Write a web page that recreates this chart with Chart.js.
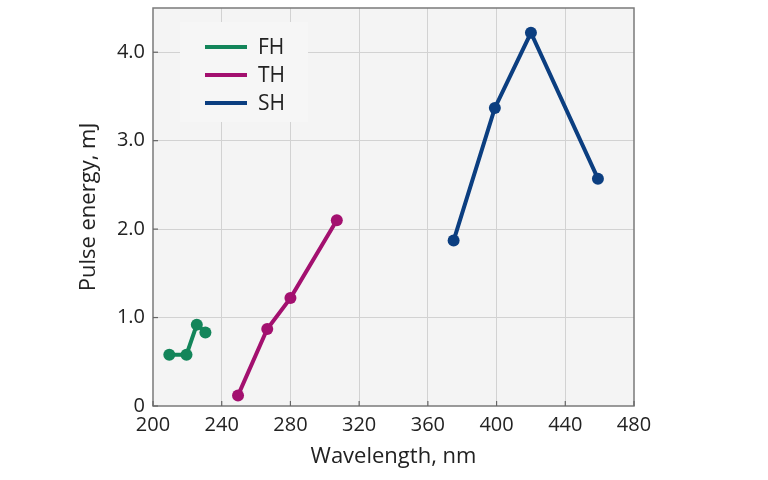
<!DOCTYPE html>
<html>
<head>
<meta charset="utf-8">
<script src="https://cdn.jsdelivr.net/npm/chart.js@4"></script>
<style>
  html, body { margin: 0; padding: 0; background: #fff; }
  #wrap { width: 768px; height: 480px; }
</style>
</head>
<body>
<div id="wrap"><canvas id="chart" width="768" height="480"></canvas></div>
<script>
// Data
const fhX = [209.5, 219.5, 225.5, 230.5];
const fhY = [0.58, 0.58, 0.92, 0.83];
const thX = [249.5, 266.5, 280, 307];
const thY = [0.12, 0.87, 1.22, 2.1];
const shX = [375, 399, 420, 459];
const shY = [1.87, 3.37, 4.22, 2.57];
const xTicks = [200, 240, 280, 320, 360, 400, 440, 480];
const yTicks = [0, 1, 2, 3, 4];
const yTickLabels = ['0', '1.0', '2.0', '3.0', '4.0'];

const COLORS = { FH: '#13855a', TH: '#a3106f', SH: '#0b3e80' };
const FONT = "'Open Sans', 'DejaVu Sans', sans-serif";
const TEXT = '#222';

const pts = (xs, ys) => xs.map((x, i) => ({ x, y: ys[i] }));

function ds(label, xs, ys) {
  return {
    label,
    data: pts(xs, ys),
    borderColor: COLORS[label],
    backgroundColor: COLORS[label],
    borderWidth: 4,
    pointRadius: 6,
    pointHoverRadius: 6,
    pointBorderWidth: 0,
    showLine: true,
    tension: 0
  };
}

// plot background, frame, inward ticks and legend
const frame = {
  id: 'frame',
  beforeDraw(chart) {
    const { ctx, chartArea: a } = chart;
    ctx.save();
    ctx.fillStyle = '#f4f4f4';
    ctx.fillRect(a.left, a.top, a.right - a.left, a.bottom - a.top);
    ctx.restore();
  },
  afterDatasetsDraw(chart) {
    const { ctx, chartArea: a, scales } = chart;
    ctx.save();
    // legend box
    ctx.fillStyle = '#f6f6f6';
    ctx.fillRect(180, 22, 128, 100);
    chart.data.datasets.forEach((d, i) => {
      const y = 47 + i * 28;
      ctx.strokeStyle = d.borderColor;
      ctx.lineWidth = 4;
      ctx.beginPath();
      ctx.moveTo(205, y);
      ctx.lineTo(247, y);
      ctx.stroke();
      ctx.fillStyle = TEXT;
      ctx.font = '21px ' + FONT;
      ctx.textBaseline = 'middle';
      ctx.fillText(d.label, 258, y + 1);
    });
    // frame
    ctx.strokeStyle = '#7a7a7a';
    ctx.lineWidth = 1.5;
    ctx.strokeRect(a.left, a.top, a.right - a.left, a.bottom - a.top);
    // inward ticks
    ctx.strokeStyle = '#666';
    ctx.lineWidth = 1.2;
    xTicks.forEach(v => {
      const x = scales.x.getPixelForValue(v);
      ctx.beginPath(); ctx.moveTo(x, a.bottom); ctx.lineTo(x, a.bottom - 5); ctx.stroke();
    });
    yTicks.forEach(v => {
      const y = scales.y.getPixelForValue(v);
      ctx.beginPath(); ctx.moveTo(a.left, y); ctx.lineTo(a.left + 5, y); ctx.stroke();
    });
    ctx.restore();
  }
};

new Chart(document.getElementById('chart'), {
  type: 'scatter',
  data: {
    datasets: [ds('FH', fhX, fhY), ds('TH', thX, thY), ds('SH', shX, shY)]
  },
  options: {
    responsive: false,
    animation: false,
    layout: { padding: { top: 8, right: 134, left: 76, bottom: 8 } },
    plugins: { legend: { display: false }, tooltip: { enabled: false } },
    scales: {
      x: {
        type: 'linear',
        min: 200, max: 480,
        afterBuildTicks: s => { s.ticks = xTicks.map(v => ({ value: v })); },
        afterFit: s => { s.height = 66; s.paddingLeft = 0; s.paddingRight = 0; },
        grid: {
          color: c => (c.tick && (c.tick.value === 200 || c.tick.value === 480)) ? 'rgba(0,0,0,0)' : '#d2d2d2',
          lineWidth: 1,
          drawTicks: false
        },
        border: { display: false },
        ticks: { color: TEXT, font: { family: FONT, size: 20 }, padding: 7, maxRotation: 0 },
        title: { display: true, text: 'Wavelength, nm', color: TEXT, font: { family: FONT, size: 22 }, padding: { top: 2, bottom: 2 } }
      },
      y: {
        type: 'linear',
        min: 0, max: 4.5,
        afterBuildTicks: s => { s.ticks = yTicks.map(v => ({ value: v })); },
        afterFit: s => { s.width = 77; s.paddingTop = 0; s.paddingBottom = 0; },
        grid: {
          color: c => (c.tick && c.tick.value === 0) ? 'rgba(0,0,0,0)' : '#d2d2d2',
          lineWidth: 1,
          drawTicks: false
        },
        border: { display: false },
        ticks: {
          color: TEXT, font: { family: FONT, size: 20 }, padding: 8,
          callback: v => yTickLabels[yTicks.indexOf(v)]
        },
        title: { display: true, text: 'Pulse energy, mJ', color: TEXT, font: { family: FONT, size: 22 }, padding: { top: 0, bottom: 4 } }
      }
    }
  },
  plugins: [frame]
});
</script>
</body>
</html>
